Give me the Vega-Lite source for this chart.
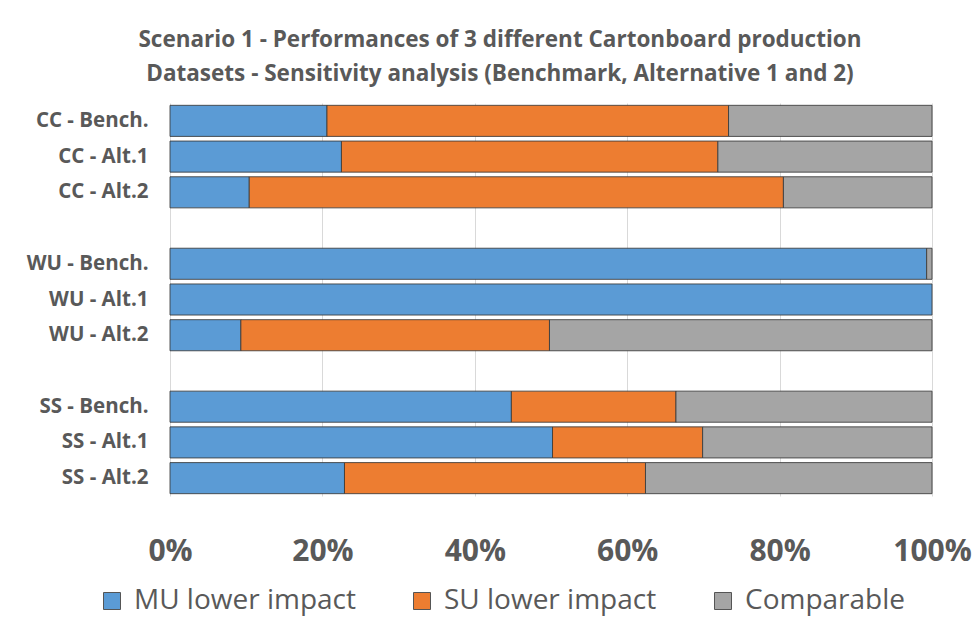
{
  "$schema": "https://vega.github.io/schema/vega-lite/v6.json",
  "autosize": {"type": "none"},
  "padding": {"left": 170, "top": 103, "right": 47, "bottom": 132},
  "width": 762,
  "height": 393,
  "background": "white",
  "title": {
    "text": ["Scenario 1 - Performances of 3 different Cartonboard production", "Datasets - Sensitivity analysis (Benchmark, Alternative 1 and 2)"],
    "anchor": "middle",
    "dx": -51,
    "offset": 18,
    "font": "Open Sans",
    "fontSize": 22.5,
    "fontWeight": "bold",
    "color": "#595959",
    "lineHeight": 34
  },
  "config": {
    "view": {"stroke": null},
    "font": "Open Sans"
  },
  "data": {
    "values": [
      {"row": "CC - Bench.", "cat": "MU lower impact", "o": 1, "v": 0.206},
      {"row": "CC - Bench.", "cat": "SU lower impact", "o": 2, "v": 0.527},
      {"row": "CC - Bench.", "cat": "Comparable", "o": 3, "v": 0.267},
      {"row": "CC - Alt.1", "cat": "MU lower impact", "o": 1, "v": 0.225},
      {"row": "CC - Alt.1", "cat": "SU lower impact", "o": 2, "v": 0.494},
      {"row": "CC - Alt.1", "cat": "Comparable", "o": 3, "v": 0.281},
      {"row": "CC - Alt.2", "cat": "MU lower impact", "o": 1, "v": 0.104},
      {"row": "CC - Alt.2", "cat": "SU lower impact", "o": 2, "v": 0.701},
      {"row": "CC - Alt.2", "cat": "Comparable", "o": 3, "v": 0.195},
      {"row": "WU - Bench.", "cat": "MU lower impact", "o": 1, "v": 0.993},
      {"row": "WU - Bench.", "cat": "Comparable", "o": 3, "v": 0.007},
      {"row": "WU - Alt.1", "cat": "MU lower impact", "o": 1, "v": 1.0},
      {"row": "WU - Alt.2", "cat": "MU lower impact", "o": 1, "v": 0.093},
      {"row": "WU - Alt.2", "cat": "SU lower impact", "o": 2, "v": 0.405},
      {"row": "WU - Alt.2", "cat": "Comparable", "o": 3, "v": 0.502},
      {"row": "SS - Bench.", "cat": "MU lower impact", "o": 1, "v": 0.448},
      {"row": "SS - Bench.", "cat": "SU lower impact", "o": 2, "v": 0.216},
      {"row": "SS - Bench.", "cat": "Comparable", "o": 3, "v": 0.336},
      {"row": "SS - Alt.1", "cat": "MU lower impact", "o": 1, "v": 0.502},
      {"row": "SS - Alt.1", "cat": "SU lower impact", "o": 2, "v": 0.197},
      {"row": "SS - Alt.1", "cat": "Comparable", "o": 3, "v": 0.301},
      {"row": "SS - Alt.2", "cat": "MU lower impact", "o": 1, "v": 0.229},
      {"row": "SS - Alt.2", "cat": "SU lower impact", "o": 2, "v": 0.395},
      {"row": "SS - Alt.2", "cat": "Comparable", "o": 3, "v": 0.376}
    ]
  },
  "mark": {"type": "bar", "stroke": "#3a3a3a", "strokeWidth": 1, "strokeOpacity": 0.85},
  "encoding": {
    "y": {
      "field": "row",
      "type": "nominal",
      "scale": {
        "domain": ["CC - Bench.", "CC - Alt.1", "CC - Alt.2", "_g1", "WU - Bench.", "WU - Alt.1", "WU - Alt.2", "_g2", "SS - Bench.", "SS - Alt.1", "SS - Alt.2"],
        "paddingInner": 0.13,
        "paddingOuter": 0.065
      },
      "axis": {
        "title": null,
        "ticks": false,
        "domain": false,
        "labelExpr": "indexof(datum.value, '_') == 0 ? '' : datum.value",
        "labelFont": "Open Sans",
        "labelFontSize": 20.5,
        "labelFontWeight": "bold",
        "labelColor": "#595959",
        "labelPadding": 22,
        "labelLimit": 200
      }
    },
    "x": {
      "field": "v",
      "type": "quantitative",
      "stack": "zero",
      "scale": {"domain": [0, 1], "nice": false},
      "axis": {
        "title": null,
        "format": ".0%",
        "values": [0, 0.2, 0.4, 0.6, 0.8, 1],
        "ticks": false,
        "domain": false,
        "grid": true,
        "gridColor": "#D9D9D9",
        "gridWidth": 1,
        "labelFont": "Open Sans",
        "labelFontSize": 30,
        "labelFontWeight": "bold",
        "labelColor": "#595959",
        "labelPadding": 40,
        "labelFlush": false
      }
    },
    "color": {
      "field": "cat",
      "type": "nominal",
      "scale": {
        "domain": ["MU lower impact", "SU lower impact", "Comparable"],
        "range": ["#5B9BD5", "#ED7D31", "#A5A5A5"]
      },
      "legend": {
        "title": null,
        "orient": "none",
        "direction": "horizontal",
        "legendX": -72,
        "legendY": 484,
        "symbolType": "square",
        "symbolSize": 289,
        "symbolStrokeColor": "#555",
        "symbolStrokeWidth": 1,
        "labelFont": "Open Sans",
        "labelFontSize": 28,
        "labelColor": "#595959",
        "labelLimit": 400,
        "columnPadding": 52,
        "labelOffset": 8
      }
    },
    "order": {"field": "o", "type": "quantitative"}
  }
}
